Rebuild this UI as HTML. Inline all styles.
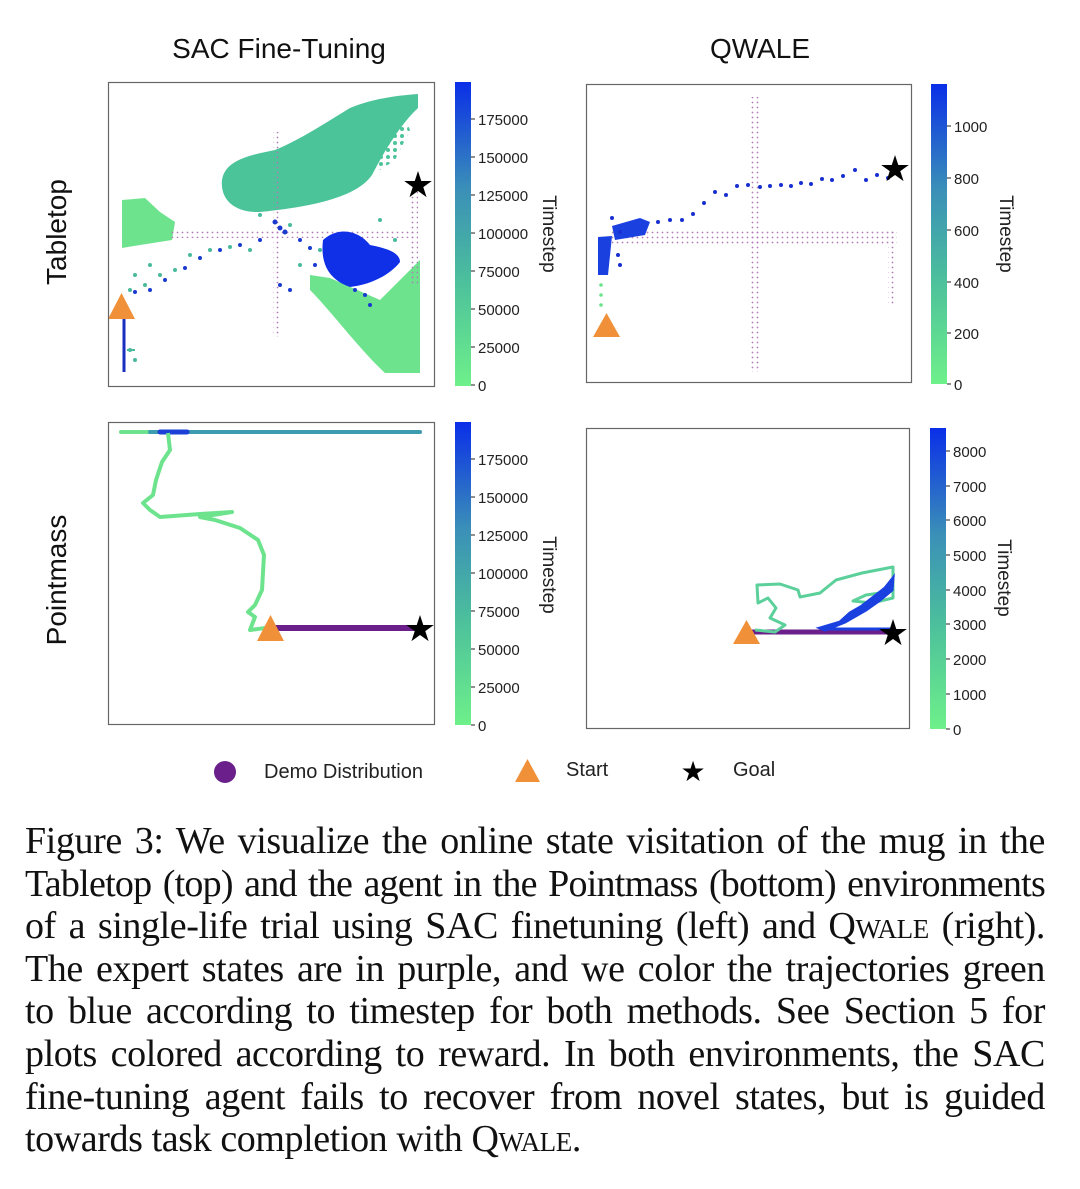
<!DOCTYPE html>
<html><head><meta charset="utf-8"><style>
html,body{margin:0;padding:0;background:#fff;}
body{width:1080px;height:1189px;position:relative;overflow:hidden;}
svg{position:absolute;left:0;top:0;}
.cap{position:absolute;left:25px;top:820px;width:1020px;font-family:"Liberation Serif",serif;font-size:38px;letter-spacing:-0.4px;line-height:42.6px;color:#111;}
.cap div{text-align:justify;text-align-last:justify;white-space:nowrap;}
.cap div.l{text-align-last:left;}
.sc{font-variant:small-caps;}
</style></head><body>
<svg width="1080" height="800" viewBox="0 0 1080 800" font-family="Liberation Sans, sans-serif">
<defs>
<linearGradient id="cb" x1="0" y1="1" x2="0" y2="0">
<stop offset="0" stop-color="#6ef08a"/><stop offset="0.35" stop-color="#4cbf9c"/><stop offset="0.65" stop-color="#3a8fb8"/><stop offset="1" stop-color="#0a2ee8"/>
</linearGradient>
<pattern id="pd" width="5" height="5" patternUnits="userSpaceOnUse"><circle cx="2.5" cy="2.5" r="0.9" fill="#b07ab8"/></pattern>
<pattern id="gd" width="6" height="6" patternUnits="userSpaceOnUse"><circle cx="3" cy="3" r="2" fill="#6ee38e"/></pattern>
<pattern id="td" width="7" height="7" patternUnits="userSpaceOnUse"><circle cx="3" cy="3" r="2" fill="#4cc49a"/></pattern>
</defs>
<text x="279" y="58" font-size="28" text-anchor="middle" fill="#111">SAC Fine-Tuning</text>
<text x="760" y="58" font-size="28" text-anchor="middle" fill="#111">QWALE</text>
<text transform="translate(66,232) rotate(-90)" font-size="28" text-anchor="middle" fill="#111">Tabletop</text>
<text transform="translate(66,580) rotate(-90)" font-size="28" text-anchor="middle" fill="#111">Pointmass</text>

<g>
<path d="M222,180 C225,160 250,155 275,150 C300,140 330,120 350,108 C370,100 390,96 418,94 L418,108 C400,125 385,150 372,175 C355,200 300,208 260,212 C235,213 220,200 222,180Z" fill="#4cc49a"/>
<path d="M300,140 L340,120 L380,110 L400,120 L395,140 L370,150 L330,145Z" fill="url(#td)"/>
<path d="M370,120 L400,105 L410,130 L395,160 L380,170Z" fill="url(#td)"/>
<path d="M122,200 L145,198 L160,212 L175,222 L172,240 L140,245 L122,248Z" fill="#6ee38e"/>
<path d="M310,275 L330,278 L380,300 L420,260 L420,373 L385,373 C360,350 330,310 310,290Z" fill="#6ee38e"/>
<rect x="170" y="230" width="245" height="8" fill="url(#pd)"/>
<rect x="273" y="132" width="8" height="205" fill="url(#pd)"/>
<rect x="411" y="190" width="7" height="95" fill="url(#pd)"/>
<g fill="#4aba9c">
<circle cx="150" cy="265" r="2"/><circle cx="160" cy="275" r="2"/><circle cx="175" cy="270" r="2"/><circle cx="190" cy="255" r="2"/><circle cx="210" cy="250" r="2"/><circle cx="230" cy="247" r="2"/><circle cx="250" cy="250" r="2"/><circle cx="135" cy="275" r="2"/><circle cx="145" cy="285" r="2"/><circle cx="130" cy="290" r="2"/><circle cx="260" cy="215" r="2"/><circle cx="290" cy="225" r="2"/><circle cx="300" cy="265" r="2"/><circle cx="320" cy="250" r="2"/><circle cx="380" cy="220" r="2"/><circle cx="395" cy="240" r="2"/><circle cx="130" cy="350" r="2"/><circle cx="135" cy="360" r="2"/>
</g>
<path d="M323,240 C340,225 360,232 370,245 C385,248 400,252 400,262 C390,275 370,285 350,287 C330,280 320,265 323,240Z" fill="#1030e8"/>
<g fill="#1a3ad0">
<circle cx="275" cy="222" r="2.5"/><circle cx="280" cy="228" r="2.5"/><circle cx="285" cy="232" r="2.5"/><circle cx="300" cy="240" r="2"/><circle cx="310" cy="248" r="2"/><circle cx="315" cy="265" r="2"/><circle cx="260" cy="240" r="2"/><circle cx="240" cy="245" r="2"/><circle cx="220" cy="250" r="2"/><circle cx="200" cy="258" r="2"/><circle cx="185" cy="268" r="2"/><circle cx="165" cy="280" r="2"/><circle cx="150" cy="290" r="2"/><circle cx="135" cy="292" r="2"/><circle cx="365" cy="295" r="2"/><circle cx="370" cy="305" r="2"/><circle cx="355" cy="290" r="2"/><circle cx="280" cy="285" r="2"/><circle cx="290" cy="290" r="2"/>
</g>
<line x1="124" y1="318" x2="124" y2="372" stroke="#1a2fc0" stroke-width="3"/>
<line x1="127" y1="350" x2="135" y2="350" stroke="#4aba9c" stroke-width="2"/>
<path d="M108,319 L135,319 L121.5,293Z" fill="#f0913a"/>
<text x="418" y="197" font-size="36" text-anchor="middle" fill="#000">★</text>
<rect x="108.5" y="82.5" width="326" height="304" fill="none" stroke="#666" stroke-width="1.2"/>
</g>

<g>
<rect x="612" y="230" width="285" height="14" fill="url(#pd)"/>
<rect x="751" y="97" width="9" height="275" fill="url(#pd)"/>
<rect x="888" y="230" width="8" height="75" fill="url(#pd)"/>
<g fill="#6ee38e"><circle cx="601" cy="285" r="1.8"/><circle cx="601" cy="295" r="1.8"/><circle cx="601" cy="305" r="1.8"/></g>
<path d="M598,237 L612,236 L608,275 L598,275Z" fill="#1a40e0"/>
<path d="M612,226 L640,218 L650,222 L645,235 L615,240Z" fill="#1a40e0"/>
<g fill="#1830d0">
<circle cx="612" cy="218" r="2"/><circle cx="620" cy="232" r="2"/><circle cx="618" cy="255" r="2"/><circle cx="620" cy="265" r="2"/><circle cx="658" cy="222" r="2"/><circle cx="670" cy="220" r="2"/><circle cx="682" cy="220" r="2"/><circle cx="693" cy="214" r="2"/><circle cx="704" cy="203" r="2"/><circle cx="715" cy="192" r="2"/><circle cx="726" cy="195" r="2"/><circle cx="737" cy="186" r="2"/><circle cx="748" cy="185" r="2"/><circle cx="760" cy="187" r="2"/><circle cx="770" cy="186" r="2"/><circle cx="781" cy="185" r="2"/><circle cx="791" cy="186" r="2"/><circle cx="801" cy="183" r="2"/><circle cx="811" cy="184" r="2"/><circle cx="822" cy="179" r="2"/><circle cx="832" cy="180" r="2"/><circle cx="843" cy="176" r="2"/><circle cx="855" cy="170" r="2"/><circle cx="866" cy="180" r="2"/><circle cx="877" cy="175" r="2"/><circle cx="888" cy="178" r="2"/>
</g>
<path d="M593,337 L620,337 L606.5,313Z" fill="#f0913a"/>
<text x="895" y="181" font-size="36" text-anchor="middle" fill="#000">★</text>
<rect x="586.5" y="84.5" width="325" height="298" fill="none" stroke="#666" stroke-width="1.2"/>
</g>

<g>
<line x1="121" y1="432" x2="150" y2="432" stroke="#6ee38e" stroke-width="4" stroke-linecap="round"/>
<line x1="150" y1="432" x2="420" y2="432" stroke="#3e9cb0" stroke-width="4" stroke-linecap="round"/>
<line x1="160" y1="432" x2="187" y2="432" stroke="#1a40d8" stroke-width="5" stroke-linecap="round"/>
<path d="M168,433 L170,450 L162,462 L156,480 L153,495 L143,503 L150,510 L160,517 L200,514 L232,512 L200,517 L215,520 L240,528 L258,540 L264,555 L262,590 L255,605 L248,612 L255,617 L250,630 L265,628" fill="none" stroke="#6ee38e" stroke-width="4" stroke-linejoin="round"/>
<line x1="270" y1="628" x2="420" y2="628" stroke="#6a1f8a" stroke-width="6"/>
<path d="M257,641 L284,641 L270.5,615Z" fill="#f0913a"/>
<text x="420" y="641" font-size="36" text-anchor="middle" fill="#000">★</text>
<rect x="108.5" y="422.5" width="326" height="302" fill="none" stroke="#666" stroke-width="1.2"/>
</g>

<g>
<line x1="750" y1="632" x2="893" y2="632" stroke="#6a1f8a" stroke-width="5"/>
<line x1="822" y1="629" x2="893" y2="629" stroke="#1a40e0" stroke-width="3"/>
<path d="M755,630 L775,632 L785,625 L770,618 L776,608 L768,598 L758,603 L757,585 L780,584 L798,590 L800,597 L820,593 L836,580 L862,573 L893,567 L893,598 L872,603 L853,601 L866,595 L880,593" fill="none" stroke="#5cd09a" stroke-width="3" stroke-linejoin="round"/>
<path d="M820,628 L840,622 L850,613 L862,606 L875,596 L885,588 L893,578 L892,590 L880,600 L866,610 L845,622 L825,630Z" fill="#1a40e0" stroke="#1a40e0" stroke-width="3"/>
<path d="M733,644 L760,644 L746.5,620Z" fill="#f0913a"/>
<text x="893" y="645" font-size="36" text-anchor="middle" fill="#000">★</text>
<rect x="586.5" y="428.5" width="323" height="300" fill="none" stroke="#666" stroke-width="1.2"/>
</g>

<g font-size="15" fill="#222">
<rect x="455" y="82" width="16" height="304" fill="url(#cb)"/>
<g stroke="#222" stroke-width="1"><line x1="471" y1="385" x2="475" y2="385"/><line x1="471" y1="347" x2="475" y2="347"/><line x1="471" y1="309" x2="475" y2="309"/><line x1="471" y1="271" x2="475" y2="271"/><line x1="471" y1="233" x2="475" y2="233"/><line x1="471" y1="195" x2="475" y2="195"/><line x1="471" y1="157" x2="475" y2="157"/><line x1="471" y1="119" x2="475" y2="119"/></g>
<text x="478" y="391">0</text><text x="478" y="353">25000</text><text x="478" y="315">50000</text><text x="478" y="277">75000</text><text x="478" y="239">100000</text><text x="478" y="201">125000</text><text x="478" y="163">150000</text><text x="478" y="125">175000</text>
<text transform="translate(543,234) rotate(90)" font-size="19" text-anchor="middle">Timestep</text>

<rect x="931" y="84" width="16" height="300" fill="url(#cb)"/>
<g stroke="#222"><line x1="947" y1="384" x2="951" y2="384"/><line x1="947" y1="333" x2="951" y2="333"/><line x1="947" y1="282" x2="951" y2="282"/><line x1="947" y1="230" x2="951" y2="230"/><line x1="947" y1="178" x2="951" y2="178"/><line x1="947" y1="126" x2="951" y2="126"/></g>
<text x="954" y="390">0</text><text x="954" y="339">200</text><text x="954" y="288">400</text><text x="954" y="236">600</text><text x="954" y="184">800</text><text x="954" y="132">1000</text>
<text transform="translate(1000,234) rotate(90)" font-size="19" text-anchor="middle">Timestep</text>

<rect x="455" y="422" width="16" height="303" fill="url(#cb)"/>
<g stroke="#222"><line x1="471" y1="725" x2="475" y2="725"/><line x1="471" y1="687" x2="475" y2="687"/><line x1="471" y1="649" x2="475" y2="649"/><line x1="471" y1="611" x2="475" y2="611"/><line x1="471" y1="573" x2="475" y2="573"/><line x1="471" y1="535" x2="475" y2="535"/><line x1="471" y1="497" x2="475" y2="497"/><line x1="471" y1="459" x2="475" y2="459"/></g>
<text x="478" y="731">0</text><text x="478" y="693">25000</text><text x="478" y="655">50000</text><text x="478" y="617">75000</text><text x="478" y="579">100000</text><text x="478" y="541">125000</text><text x="478" y="503">150000</text><text x="478" y="465">175000</text>
<text transform="translate(543,575) rotate(90)" font-size="19" text-anchor="middle">Timestep</text>

<rect x="930" y="428" width="16" height="301" fill="url(#cb)"/>
<g stroke="#222"><line x1="946" y1="729" x2="950" y2="729"/><line x1="946" y1="694" x2="950" y2="694"/><line x1="946" y1="659" x2="950" y2="659"/><line x1="946" y1="624" x2="950" y2="624"/><line x1="946" y1="590" x2="950" y2="590"/><line x1="946" y1="555" x2="950" y2="555"/><line x1="946" y1="520" x2="950" y2="520"/><line x1="946" y1="486" x2="950" y2="486"/><line x1="946" y1="451" x2="950" y2="451"/></g>
<text x="953" y="735">0</text><text x="953" y="700">1000</text><text x="953" y="665">2000</text><text x="953" y="630">3000</text><text x="953" y="596">4000</text><text x="953" y="561">5000</text><text x="953" y="526">6000</text><text x="953" y="492">7000</text><text x="953" y="457">8000</text>
<text transform="translate(998,578) rotate(90)" font-size="19" text-anchor="middle">Timestep</text>
</g>

<circle cx="225" cy="772" r="11" fill="#6a1f8a"/>
<text x="264" y="778" font-size="20" fill="#222">Demo Distribution</text>
<path d="M515,782 L540,782 L527.5,759Z" fill="#f0913a"/>
<text x="566" y="776" font-size="20" fill="#222">Start</text>
<text x="693" y="781" font-size="28" text-anchor="middle" fill="#000">★</text>
<text x="733" y="776" font-size="20" fill="#222">Goal</text>
</svg>
<div class="cap">
<div>Figure 3: We visualize the online state visitation of the mug in the</div>
<div style="letter-spacing:-0.75px">Tabletop (top) and the agent in the Pointmass (bottom) environments</div>
<div>of a single-life trial using SAC finetuning (left) and Q<span class="sc">wale</span> (right).</div>
<div>The expert states are in purple, and we color the trajectories green</div>
<div>to blue according to timestep for both methods. See Section 5 for</div>
<div>plots colored according to reward. In both environments, the SAC</div>
<div>fine-tuning agent fails to recover from novel states, but is guided</div>
<div class="l">towards task completion with Q<span class="sc">wale</span>.</div>
</div>
</body></html>
